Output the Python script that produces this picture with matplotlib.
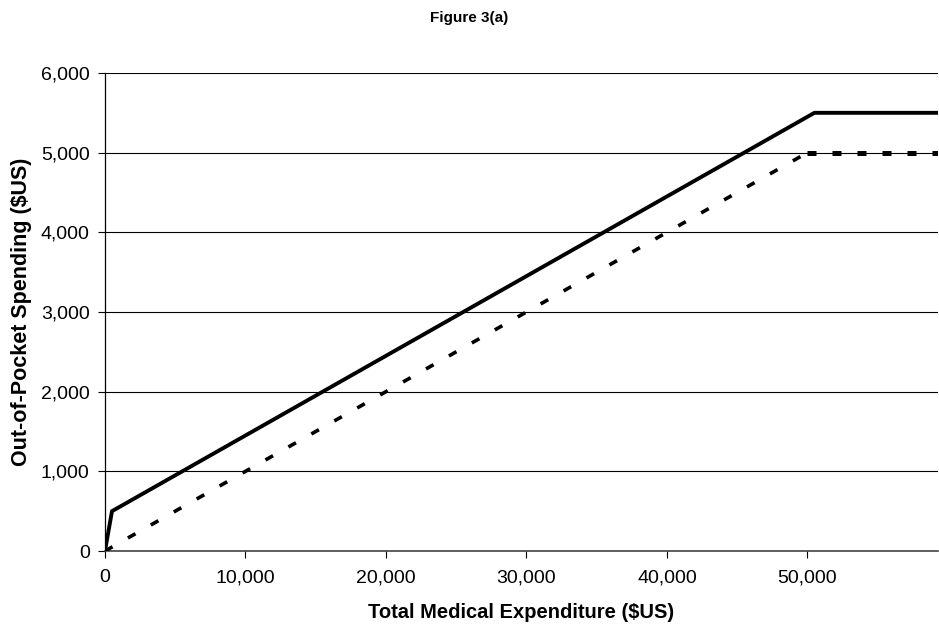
import matplotlib
matplotlib.use("Agg")
import matplotlib.pyplot as plt
from matplotlib.ticker import FuncFormatter

plt.rcParams['font.family'] = ['Liberation Sans', 'DejaVu Sans']

# total medical expenditure vs out-of-pocket spending
solid_x = [0, 500, 50500, 59300]
solid_y = [0, 500, 5500, 5500]

dotted_x = [0, 50000]
dotted_y = [0, 5000]
cap_x = [50000, 59300]
cap_y = [5000, 5000]

fig = plt.figure(figsize=(9.39, 6.28), dpi=100)
ax = fig.add_axes([0.1118, 0.1226, 0.8872, 0.7612])

ax.plot(solid_x, solid_y, color="black", lw=2.8, solid_joinstyle="miter", zorder=3)
ax.plot(dotted_x, dotted_y, color="black", lw=2.6, linestyle=(0, (2.4, 4.9)), zorder=3)
ax.plot(cap_x, cap_y, color="black", lw=3.6, linestyle=(-5.0, (1.8, 3.2)), zorder=3)

ax.set_xlim(0, 59300)
ax.set_ylim(0, 6000)
ax.set_xticks(range(0, 50001, 10000))
ax.set_yticks(range(0, 6001, 1000))
fmt = FuncFormatter(lambda v, p: f"{int(v):,}")
ax.xaxis.set_major_formatter(fmt)
ax.yaxis.set_major_formatter(fmt)

ax.grid(True, axis="y", color="black", lw=0.8)
ax.set_axisbelow(True)
for s in ["top", "right"]:
    ax.spines[s].set_visible(False)
ax.spines["left"].set_linewidth(0.9)
ax.spines["bottom"].set_linewidth(1.2)
ax.spines["bottom"].set_color("#444444")
ax.tick_params(axis="both", direction="out", length=5, width=0.8, labelsize=14, colors="black")
ax.tick_params(axis="x", pad=8)
ax.tick_params(axis="y", pad=6)

ax.set_xlabel("Total Medical Expenditure ($US)", fontsize=14.5, fontweight="bold", labelpad=12)
ax.set_ylabel("Out-of-Pocket Spending ($US)", fontsize=15.5, fontweight="bold", labelpad=6)
fig.text(0.5, 0.971, "Figure 3(a)", ha="center", va="center", fontsize=11, fontweight="bold")

fig.savefig("out.png", dpi=100)
